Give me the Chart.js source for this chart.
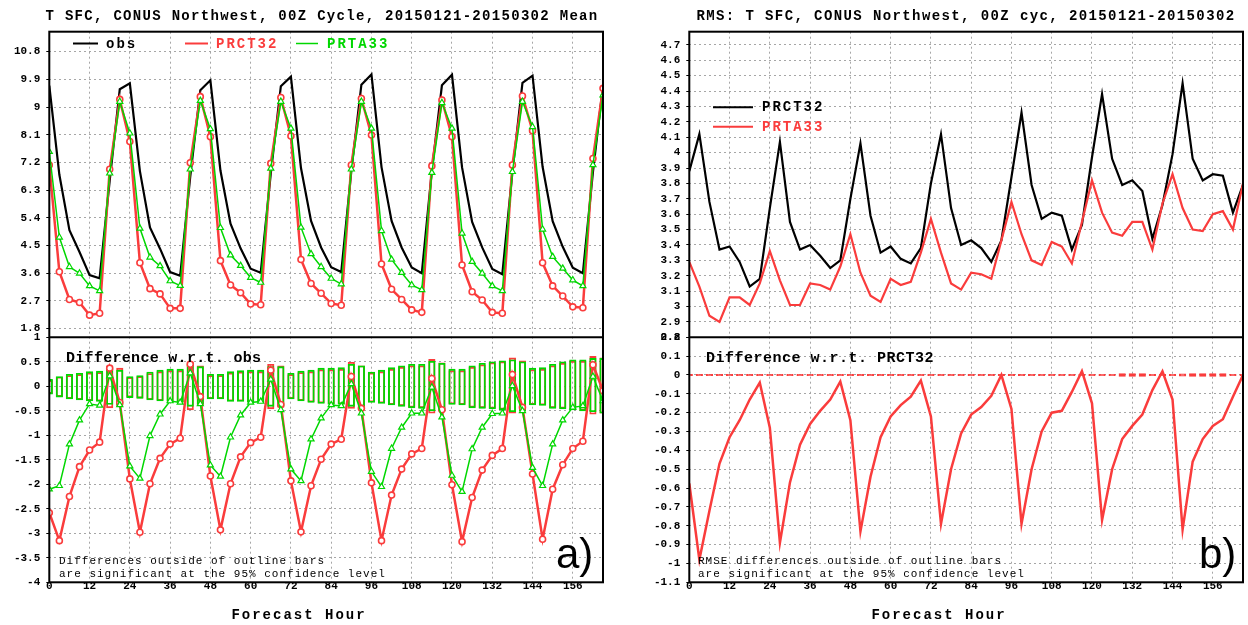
<!DOCTYPE html>
<html>
<head>
<meta charset="utf-8">
<script src="https://cdn.jsdelivr.net/npm/chart.js@4.4.1/dist/chart.umd.min.js"></script>
<style>
  html, body { margin: 0; padding: 0; background: #fff; overflow: hidden; }
  #wrap { position: relative; width: 1248px; height: 625px; }
  #wrap canvas { position: absolute; top: 0; }
</style>
</head>
<body>
<div id="wrap">
  <canvas id="meanChart" width="624" height="625" style="left:0"></canvas>
  <canvas id="rmsChart" width="624" height="625" style="left:624px"></canvas>
</div>
<script>
// forecast hours (x categories) and axis tick labels
const hours = [0,3,6,9,12,15,18,21,24,27,30,33,36,39,42,45,48,51,54,57,60,63,66,69,72,75,78,81,
  84,87,90,93,96,99,102,105,108,111,114,117,120,123,126,129,132,135,138,141,144,147,150,153,156,159,162,165];
const hourTicks = [0,12,24,36,48,60,72,84,96,108,120,132,144,156];
const meanTicks = [1.8,2.7,3.6,4.5,5.4,6.3,7.2,8.1,9,9.9,10.8];
const meanDiffTicks = [-4,-3.5,-3,-2.5,-2,-1.5,-1,-0.5,0,0.5,1];
const rmsTicks = [2.8,2.9,3,3.1,3.2,3.3,3.4,3.5,3.6,3.7,3.8,3.9,4,4.1,4.2,4.3,4.4,4.5,4.6,4.7];
const rmsDiffTicks = [-1.1,-1,-0.9,-0.8,-0.7,-0.6,-0.5,-0.4,-0.3,-0.2,-0.1,0,0.1,0.2];

// panel a) mean T SFC
const obsMean = [9.70,6.80,5.00,4.29,3.54,3.44,6.61,9.58,9.77,6.92,5.09,4.40,3.64,3.52,
  6.74,9.55,9.87,6.94,5.21,4.41,3.75,3.62,6.84,9.68,9.99,7.02,5.30,4.44,3.80,3.64,
  6.92,9.73,10.06,7.05,5.30,4.44,3.79,3.60,6.93,9.71,10.05,7.04,5.27,4.44,3.74,3.57,
  6.88,9.79,10.02,7.06,5.29,4.46,3.78,3.60,6.89,9.70];
const prct32Mean = [7.12,3.65,2.75,2.65,2.24,2.30,6.98,9.25,7.88,3.94,3.10,2.93,2.46,2.46,
  7.19,9.34,8.04,4.01,3.22,2.97,2.60,2.58,7.17,9.31,8.06,4.05,3.27,2.95,2.62,2.56,
  7.12,9.28,8.09,3.90,3.08,2.75,2.41,2.33,7.09,9.23,8.04,3.87,3.00,2.73,2.33,2.30,
  7.12,9.36,8.23,3.94,3.19,2.86,2.51,2.48,7.33,9.61];
const prta33Mean = [7.55,4.77,3.81,3.60,3.19,3.03,6.85,9.18,8.15,5.06,4.12,3.84,3.35,3.20,
  6.98,9.21,8.29,5.08,4.19,3.85,3.46,3.30,7.01,9.18,8.31,5.09,4.23,3.81,3.43,3.25,
  6.98,9.18,8.31,4.98,4.05,3.62,3.22,3.06,6.87,9.14,8.31,4.90,3.98,3.60,3.19,3.03,
  6.90,9.18,8.36,5.03,4.14,3.76,3.38,3.19,7.12,9.39];

// panel a) differences w.r.t. obs
const prct32Diff = [-2.58,-3.15,-2.25,-1.64,-1.30,-1.14,0.37,-0.33,-1.89,-2.98,-1.99,-1.47,-1.18,-1.06,
  0.45,-0.21,-1.83,-2.93,-1.99,-1.44,-1.15,-1.04,0.33,-0.37,-1.93,-2.97,-2.03,-1.49,-1.18,-1.08,
  0.20,-0.45,-1.97,-3.15,-2.22,-1.69,-1.38,-1.27,0.16,-0.48,-2.01,-3.17,-2.27,-1.71,-1.41,-1.27,
  0.24,-0.43,-1.79,-3.12,-2.10,-1.60,-1.27,-1.12,0.44,-0.09];
const prta33Diff = [-2.10,-2.03,-1.18,-0.69,-0.36,-0.39,0.21,-0.38,-1.63,-1.88,-1.01,-0.57,-0.30,-0.33,
  0.27,-0.36,-1.61,-1.84,-1.04,-0.59,-0.33,-0.31,0.14,-0.48,-1.69,-1.93,-1.08,-0.65,-0.38,-0.40,
  0.05,-0.55,-1.74,-2.05,-1.27,-0.84,-0.55,-0.55,-0.02,-0.63,-1.82,-2.15,-1.28,-0.84,-0.56,-0.55,
  0.01,-0.50,-1.66,-2.03,-1.18,-0.69,-0.43,-0.40,0.20,-0.30];

// 95% significance outline bars (low / high)
const prct32SigHi = [0.12,0.19,0.22,0.24,0.27,0.28,0.42,0.37,0.18,0.20,0.26,0.30,0.32,0.32,
  0.50,0.42,0.22,0.22,0.27,0.29,0.30,0.30,0.45,0.42,0.24,0.28,0.30,0.34,0.34,0.35,
  0.49,0.42,0.27,0.30,0.35,0.39,0.42,0.42,0.55,0.48,0.32,0.32,0.39,0.44,0.48,0.50,
  0.58,0.52,0.34,0.35,0.42,0.47,0.51,0.51,0.61,0.58];
const prct32SigLo = [-0.15,-0.21,-0.25,-0.27,-0.29,-0.30,-0.44,-0.41,-0.22,-0.24,-0.27,-0.29,-0.30,-0.32,
  -0.48,-0.38,-0.25,-0.25,-0.30,-0.30,-0.32,-0.32,-0.46,-0.43,-0.25,-0.29,-0.32,-0.34,-0.36,-0.36,
  -0.45,-0.43,-0.32,-0.34,-0.37,-0.40,-0.43,-0.44,-0.55,-0.51,-0.36,-0.37,-0.43,-0.44,-0.45,-0.47,
  -0.55,-0.51,-0.37,-0.38,-0.44,-0.45,-0.47,-0.49,-0.57,-0.55];
const prta33SigHi = [0.14,0.20,0.245,0.265,0.30,0.31,0.35,0.33,0.20,0.22,0.29,0.33,0.35,0.35,
  0.45,0.40,0.245,0.245,0.30,0.32,0.33,0.33,0.40,0.40,0.265,0.31,0.33,0.37,0.37,0.38,
  0.45,0.42,0.29,0.33,0.38,0.42,0.45,0.45,0.51,0.47,0.35,0.35,0.42,0.47,0.50,0.52,
  0.54,0.50,0.37,0.38,0.45,0.50,0.54,0.54,0.57,0.57];
const prta33SigLo = [-0.16,-0.22,-0.26,-0.28,-0.30,-0.31,-0.37,-0.38,-0.23,-0.245,-0.28,-0.30,-0.31,-0.33,
  -0.41,-0.36,-0.26,-0.26,-0.31,-0.31,-0.33,-0.33,-0.41,-0.41,-0.26,-0.30,-0.33,-0.35,-0.37,-0.37,
  -0.41,-0.41,-0.33,-0.35,-0.38,-0.41,-0.44,-0.45,-0.50,-0.50,-0.37,-0.38,-0.44,-0.45,-0.46,-0.48,
  -0.52,-0.50,-0.38,-0.39,-0.45,-0.46,-0.48,-0.50,-0.52,-0.55];

// panel b) RMS error
const prct32Rms = [3.88,4.12,3.68,3.37,3.39,3.29,3.13,3.18,3.64,4.07,3.55,3.37,3.40,3.33,3.25,3.30,
  3.70,4.06,3.59,3.35,3.39,3.31,3.28,3.38,3.80,4.12,3.64,3.40,3.43,3.38,3.29,3.43,
  3.84,4.26,3.79,3.57,3.61,3.59,3.37,3.53,3.97,4.38,3.96,3.79,3.82,3.75,3.44,3.66,
  3.99,4.45,3.96,3.82,3.86,3.85,3.61,3.79];
const prta33Rms = [3.29,3.13,2.94,2.90,3.06,3.06,3.01,3.15,3.36,3.17,3.01,3.01,3.15,3.14,3.11,3.26,
  3.47,3.22,3.07,3.03,3.18,3.14,3.16,3.35,3.57,3.35,3.15,3.11,3.22,3.21,3.18,3.43,
  3.68,3.47,3.30,3.27,3.42,3.39,3.28,3.55,3.82,3.61,3.48,3.46,3.55,3.55,3.37,3.67,
  3.86,3.64,3.50,3.49,3.60,3.62,3.50,3.80];
const rmsDiff = [-0.575,-0.98,-0.72,-0.47,-0.33,-0.24,-0.13,-0.04,-0.28,-0.89,-0.57,-0.37,-0.26,-0.19,-0.13,-0.035,
  -0.24,-0.83,-0.54,-0.33,-0.22,-0.16,-0.115,-0.03,-0.22,-0.79,-0.50,-0.31,-0.21,-0.17,-0.11,0.0,
  -0.18,-0.79,-0.50,-0.30,-0.20,-0.19,-0.09,0.02,-0.15,-0.77,-0.50,-0.34,-0.27,-0.21,-0.08,0.02,
  -0.13,-0.82,-0.46,-0.34,-0.27,-0.235,-0.115,0.0];
const rmsSigHi = [0.004,0.004,0.004,0.004,0.004,0.004,0.004,0.004,0.004,0.004,0.004,0.004,0.004,0.004,0.004,0.004,
  0.004,0.004,0.004,0.004,0.004,0.004,0.004,0.004,0.004,0.004,0.004,0.004,0.004,0.004,0.004,0.004,
  0.004,0.004,0.004,0.004,0.004,0.004,0.004,0.004,0.004,0.004,0.004,0.008,0.008,0.008,0.004,0.004,
  0.004,0.006,0.008,0.008,0.008,0.008,0.004,0.004];
const rmsSigLo = rmsSigHi.map(v => -v);

const RED = 'rgb(250,60,60)';
const GREEN = 'rgb(0,215,0)';
const GRID = '#a6a6a6';
const MONO = '"Liberation Mono", "DejaVu Sans Mono", monospace';

const pts = ys => hours.map((h, i) => ({x: h, y: ys[i]}));
const boxes = (lo, hi) => hours.map((h, i) => ({x: h, y: [lo[i], hi[i]]}));

// frame, panel divider and GrADS-style annotations
const panelDecor = {
  id: 'panelDecor',
  afterDraw(chart, args, opts) {
    const {ctx, chartArea: a} = chart;
    const split = chart.scales[opts.split].bottom;
    ctx.save();
    ctx.strokeStyle = '#000';
    ctx.lineWidth = 2;
    ctx.strokeRect(a.left, a.top, a.right - a.left, a.bottom - a.top);
    ctx.beginPath();
    ctx.moveTo(a.left, split);
    ctx.lineTo(a.right, split);
    ctx.stroke();

    opts.legend.forEach(l => {
      ctx.strokeStyle = l.color;
      ctx.lineWidth = l.width;
      ctx.beginPath();
      ctx.moveTo(l.x1, l.y);
      ctx.lineTo(l.x2, l.y);
      ctx.stroke();
    });

    opts.texts.forEach(t => {
      ctx.font = t.font;
      ctx.fillStyle = t.color || '#000';
      ctx.textAlign = t.align || 'left';
      ctx.textBaseline = t.baseline || 'middle';
      if ('letterSpacing' in ctx) ctx.letterSpacing = (t.spacing || 0) + 'px';
      ctx.fillText(t.text, t.x, t.y);
    });
    if ('letterSpacing' in ctx) ctx.letterSpacing = '0px';
    ctx.restore();
  }
};

function valueAxis(min, max, ticks, weight, stackWeight, width) {
  return {
    type: 'linear', position: 'left', stack: 'panel', stackWeight: stackWeight, weight: weight,
    min: min, max: max, beginAtZero: false,
    afterBuildTicks: s => { s.ticks = ticks.map(v => ({value: v})); },
    afterFit: s => { s.width = width; },
    grid: {color: GRID, lineWidth: 1, drawTicks: true, tickLength: 3, tickColor: '#000', tickWidth: 1},
    border: {display: false, dash: [2, 3]},
    ticks: {color: '#000', padding: 6, autoSkip: false, font: {family: MONO, size: 11, weight: 'bold'},
      callback: v => String(v)}
  };
}

function hourAxis() {
  return {
    type: 'linear', position: 'bottom', min: 0, max: 165, offset: false,
    afterBuildTicks: s => { s.ticks = hourTicks.map(v => ({value: v})); },
    afterFit: s => { s.height = 42.7; },
    grid: {color: GRID, lineWidth: 1, drawTicks: false, offset: false},
    border: {display: false, dash: [2, 3]},
    ticks: {color: '#000', padding: -3, maxRotation: 0, autoSkip: false,
      font: {family: MONO, size: 11, weight: 'bold'}, callback: v => String(v)}
  };
}

const titleFont = 'bold 14px ' + MONO;
const legendFont = 'bold 14px ' + MONO;
const labelFont = 'bold 15px ' + MONO;
const noteFont = '11px ' + MONO;
const tagFont = '42px "Liberation Sans", Arial, sans-serif';

function lineSet(label, data, axis, color, width, extra) {
  return Object.assign({
    type: 'line', label: label, data: pts(data), yAxisID: axis,
    borderColor: color, borderWidth: width, tension: 0, fill: false, pointRadius: 0
  }, extra || {});
}

function sigSet(label, lo, hi, axis, color, order) {
  return {
    type: 'bar', label: label, data: boxes(lo, hi), yAxisID: axis,
    borderColor: color, borderWidth: 1.2, borderSkipped: false, backgroundColor: 'rgba(0,0,0,0)',
    grouped: false, barThickness: 6.5, order: order
  };
}

new Chart(document.getElementById('meanChart'), {
  type: 'line',
  data: {
    datasets: [
      sigSet('PRCT32 sig', prct32SigLo, prct32SigHi, 'yDiff', RED, 8),
      sigSet('PRTA33 sig', prta33SigLo, prta33SigHi, 'yDiff', GREEN, 7),
      lineSet('obs', obsMean, 'yMean', '#000', 2.2, {order: 6}),
      lineSet('PRCT32', prct32Mean, 'yMean', RED, 2.5, {order: 5, pointRadius: 3, pointStyle: 'circle',
        pointBorderColor: RED, pointBackgroundColor: '#fff', pointBorderWidth: 1.6}),
      lineSet('PRTA33', prta33Mean, 'yMean', GREEN, 1.5, {order: 4, pointRadius: 3.5, pointStyle: 'triangle',
        pointBorderColor: GREEN, pointBackgroundColor: '#fff', pointBorderWidth: 1.2}),
      lineSet('PRCT32 - obs', prct32Diff, 'yDiff', RED, 2.5, {order: 3, pointRadius: 3, pointStyle: 'circle',
        pointBorderColor: RED, pointBackgroundColor: '#fff', pointBorderWidth: 1.6}),
      lineSet('PRTA33 - obs', prta33Diff, 'yDiff', GREEN, 1.5, {order: 2, pointRadius: 3.5, pointStyle: 'triangle',
        pointBorderColor: GREEN, pointBackgroundColor: '#fff', pointBorderWidth: 1.2})
    ]
  },
  options: {
    responsive: false, animation: false, devicePixelRatio: 1, events: [],
    layout: {padding: {top: 31.7, right: 21, bottom: 0, left: 0}},
    plugins: {
      legend: {display: false}, tooltip: {enabled: false},
      panelDecor: {
        split: 'yMean',
        legend: [
          {x1: 73, x2: 98, y: 43.5, color: '#000', width: 2},
          {x1: 185, x2: 208, y: 43.5, color: RED, width: 2},
          {x1: 296, x2: 318, y: 43.5, color: GREEN, width: 1.5}
        ],
        texts: [
          {text: 'T SFC, CONUS Northwest, 00Z Cycle, 20150121-20150302 Mean', x: 322, y: 16, font: titleFont, align: 'center', spacing: 1.3},
          {text: 'obs', x: 106, y: 44, font: legendFont, spacing: 2},
          {text: 'PRCT32', x: 216, y: 44, font: legendFont, spacing: 2, color: RED},
          {text: 'PRTA33', x: 327, y: 44, font: legendFont, spacing: 2, color: GREEN},
          {text: 'Difference w.r.t. obs', x: 66, y: 358.5, font: labelFont, spacing: 0.3},
          {text: 'Differences outside of outline bars', x: 59, y: 561, font: noteFont, spacing: 1},
          {text: 'are significant at the 95% confidence level', x: 59, y: 574, font: noteFont, spacing: 1},
          {text: 'a)', x: 556, y: 568, font: tagFont, baseline: 'alphabetic'},
          {text: 'Forecast Hour', x: 299, y: 615, font: legendFont, align: 'center', spacing: 2}
        ]
      }
    },
    scales: {
      x: hourAxis(),
      yMean: valueAxis(1.52, 11.45, meanTicks, 2, 305.6, 49.3),
      yDiff: valueAxis(-4, 1, meanDiffTicks, 1, 245, 49.3)
    }
  },
  plugins: [panelDecor]
});

new Chart(document.getElementById('rmsChart'), {
  type: 'line',
  data: {
    datasets: [
      sigSet('RMSE diff sig', rmsSigLo, rmsSigHi, 'yRmsDiff', RED, 5),
      lineSet('PRCT32', prct32Rms, 'yRms', '#000', 2.2, {order: 4}),
      lineSet('PRTA33', prta33Rms, 'yRms', RED, 2.2, {order: 3}),
      lineSet('PRTA33 - PRCT32', rmsDiff, 'yRmsDiff', RED, 2.5, {order: 2})
    ]
  },
  options: {
    responsive: false, animation: false, devicePixelRatio: 1, events: [],
    layout: {padding: {top: 31.7, right: 5, bottom: 0, left: 0}},
    plugins: {
      legend: {display: false}, tooltip: {enabled: false},
      panelDecor: {
        split: 'yRms',
        legend: [
          {x1: 89, x2: 129, y: 107.3, color: '#000', width: 2},
          {x1: 89, x2: 129, y: 126.7, color: RED, width: 2}
        ],
        texts: [
          {text: 'RMS: T SFC, CONUS Northwest, 00Z cyc, 20150121-20150302', x: 342, y: 16, font: titleFont, align: 'center', spacing: 1.4},
          {text: 'PRCT32', x: 138, y: 107.5, font: legendFont, spacing: 2},
          {text: 'PRTA33', x: 138, y: 127, font: legendFont, spacing: 2, color: RED},
          {text: 'Difference w.r.t. PRCT32', x: 82, y: 358.5, font: labelFont, spacing: 0.5},
          {text: 'RMSE differences outside of outline bars', x: 74, y: 561, font: noteFont, spacing: 1},
          {text: 'are significant at the 95% confidence level', x: 74, y: 574, font: noteFont, spacing: 1},
          {text: 'b)', x: 575, y: 568, font: tagFont, baseline: 'alphabetic'},
          {text: 'Forecast Hour', x: 315, y: 615, font: legendFont, align: 'center', spacing: 2}
        ]
      }
    },
    scales: {
      x: hourAxis(),
      yRms: valueAxis(2.8, 4.786, rmsTicks, 2, 305.6, 65.3),
      yRmsDiff: valueAxis(-1.1, 0.2, rmsDiffTicks, 1, 245, 65.3)
    }
  },
  plugins: [panelDecor]
});
</script>
</body>
</html>
